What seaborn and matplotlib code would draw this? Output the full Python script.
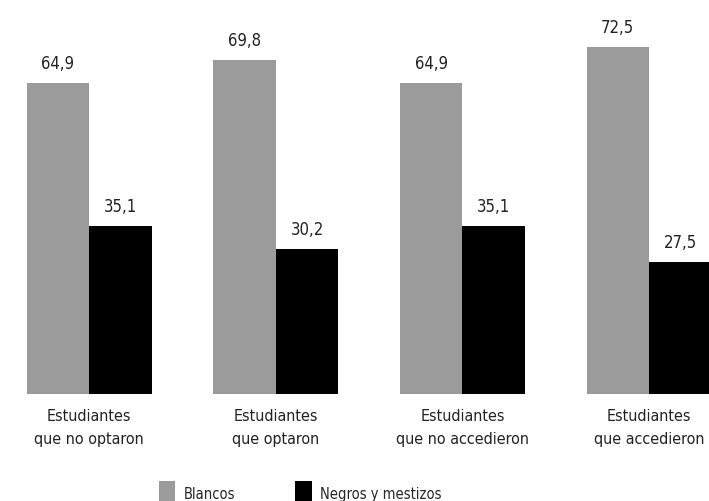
import matplotlib
matplotlib.use("Agg")
import matplotlib.pyplot as plt
from matplotlib.patches import Patch
import seaborn as sns
import pandas as pd

categorias = ["Estudiantes\nque no optaron", "Estudiantes\nque optaron",
              "Estudiantes\nque no accedieron", "Estudiantes\nque accedieron"]
blancos = [64.9, 69.8, 64.9, 72.5]
negros_mestizos = [35.1, 30.2, 35.1, 27.5]
grupos = ["Blancos", "Negros y mestizos"]
colores = ["#9b9b9b", "#000000"]

df = pd.DataFrame({
    "categoria": categorias * 2,
    "grupo": [grupos[0]] * len(categorias) + [grupos[1]] * len(categorias),
    "valor": blancos + negros_mestizos,
})

sns.set_theme(style="white")
plt.rcParams["font.family"] = ["DejaVu Sans"]
plt.rcParams["font.stretch"] = "condensed"

fig = plt.figure(figsize=(7.09, 5.02), dpi=100)
ax = fig.add_axes([0.0, 0.213, 1.0, 0.787])

sns.barplot(data=df, x="categoria", y="valor", hue="grupo", palette=colores,
            width=0.67, gap=0, ax=ax, legend=False, saturation=1, linewidth=0)

for cont in ax.containers:
    ax.bar_label(cont, labels=[f"{v:.1f}".replace(".", ",") for v in cont.datavalues],
                 padding=8, fontsize=12, color="#222222", fontstretch="condensed")

ax.set_xlim(-0.477, 3.321)
ax.set_ylim(0, 82.5)
ax.set_yticks([])
ax.set_xlabel("")
ax.set_ylabel("")
ax.tick_params(axis="x", length=0, pad=10, labelsize=11.5, colors="#222222")
for lbl in ax.get_xticklabels():
    lbl.set_fontstretch("condensed")
    lbl.set_linespacing(1.7)
for s in ax.spines.values():
    s.set_visible(False)

handles = [Patch(facecolor=c, edgecolor="none") for c in colores]
leg = fig.legend(handles, grupos, loc="lower center", bbox_to_anchor=(0.423, -0.035),
                 ncol=2, frameon=False, fontsize=10.5, handlelength=1.16, handleheight=2.2,
                 columnspacing=4.1, handletextpad=0.55)
for t in leg.get_texts():
    t.set_fontstretch("condensed")

fig.savefig("out.png", dpi=100)
